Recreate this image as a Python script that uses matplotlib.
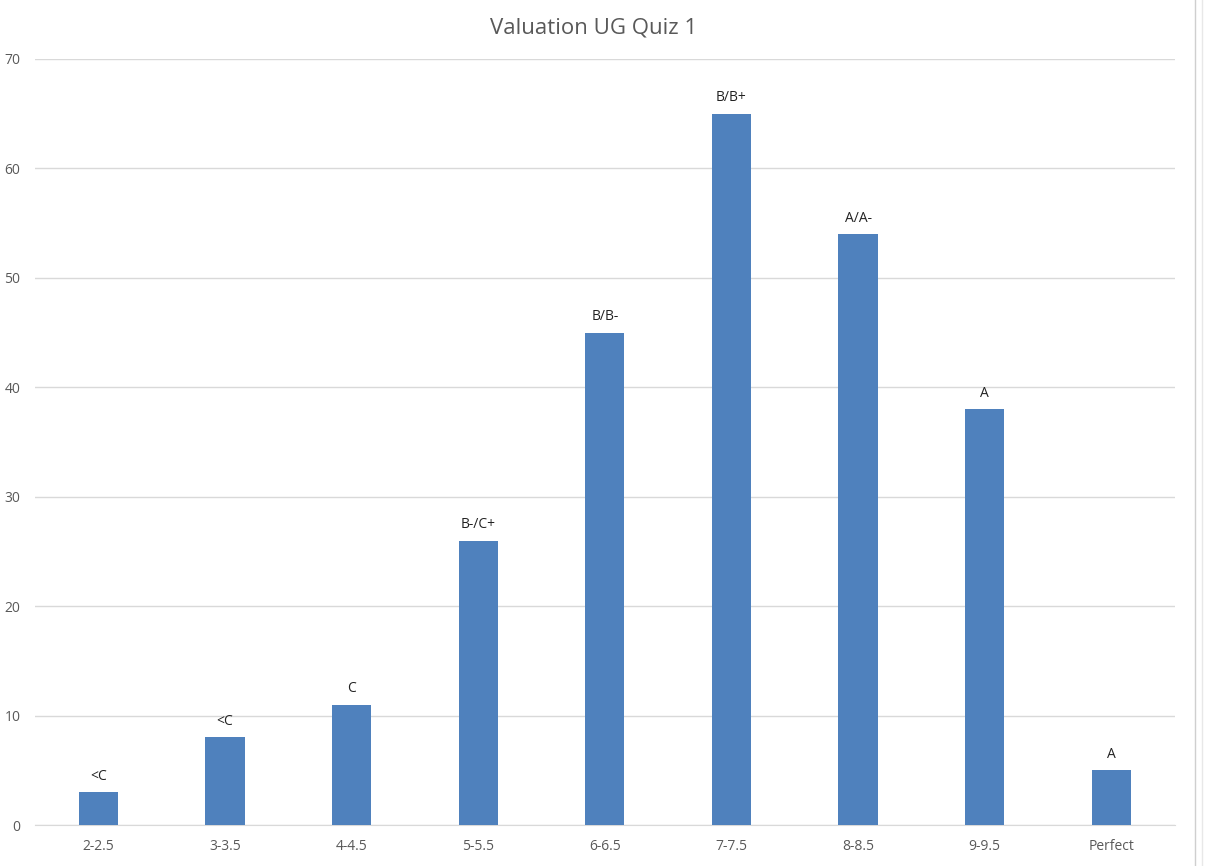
import matplotlib.pyplot as plt
import matplotlib.lines as mlines

# score buckets, student counts and grade labels
categories = ['2-2.5', '3-3.5', '4-4.5', '5-5.5', '6-6.5', '7-7.5', '8-8.5', '9-9.5', 'Perfect']
counts = [3, 8, 11, 26, 45, 65, 54, 38, 5]
grades = ['<C', '<C', 'C', 'B-/C+', 'B/B-', 'B/B+', 'A/A-', 'A', 'A']

plt.rcParams['font.family'] = ['Open Sans', 'DejaVu Sans']

fig = plt.figure(figsize=(12.06, 8.66), dpi=100)
ax = fig.add_axes([0.029, 0.0473, 0.945, 0.8846])

x = range(len(categories))
bars = ax.bar(x, counts, width=0.31, color='#4f81bd', zorder=3)

for xi, v, g in zip(x, counts, grades):
    ax.annotate(g, (xi, v), xytext=(0, 6), textcoords='offset points',
                ha='center', va='bottom', fontsize=10, color='#222222')

ax.set_xlim(-0.5, len(categories) - 0.5)
ax.set_ylim(0, 70)
ax.set_yticks(range(0, 71, 10))
ax.set_xticks(list(x))
ax.set_xticklabels(categories)
ax.grid(axis='y', color='#d9d9d9', linewidth=1, zorder=0)
for s in ['top', 'right', 'left']:
    ax.spines[s].set_visible(False)
ax.spines['bottom'].set_color('#d9d9d9')
ax.tick_params(axis='both', length=0, labelsize=10, colors='#595959')
ax.tick_params(axis='y', pad=10.5)
ax.tick_params(axis='x', pad=10)

fig.suptitle('Valuation UG Quiz 1', x=0.492, y=0.98, fontsize=16, color='#595959')

# window edge on the right
fig.add_artist(mlines.Line2D([0.9905, 0.9905], [0, 1], color='#cfcfcf', linewidth=1))
fig.add_artist(mlines.Line2D([0.9965, 0.9965], [0, 1], color='#e8e8e8', linewidth=1))

fig.savefig('out.png', dpi=100)
